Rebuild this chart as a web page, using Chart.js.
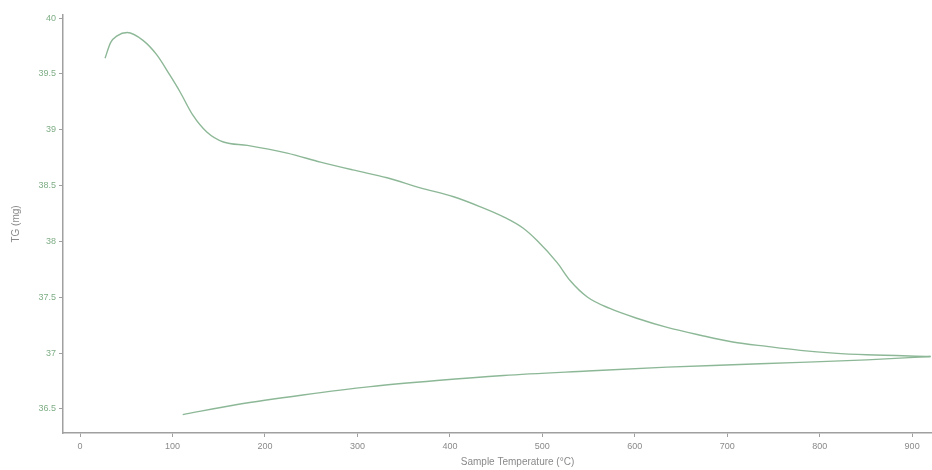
<!DOCTYPE html>
<html>
<head>
<meta charset="utf-8">
<script src="https://cdn.jsdelivr.net/npm/chart.js@4"></script>
<style>
  html, body { margin:0; padding:0; background:#fff; }
  #wrap { width:932px; height:470px; }
</style>
</head>
<body>
<div id="wrap"><canvas id="tgChart" width="932" height="470"></canvas></div>
<script>
// Courbe de chauffe (°C, mg)
const heatT    = [27, 33, 40, 51, 68, 83, 97, 108, 122, 137, 155, 181, 224, 260, 295, 332, 368, 404, 433, 458, 479, 494, 516, 530, 549, 573, 603, 635, 671, 706, 743, 779, 815, 851, 920];
const heatMass = [39.64, 39.78, 39.84, 39.87, 39.80, 39.67, 39.49, 39.34, 39.13, 38.98, 38.89, 38.86, 38.79, 38.71, 38.64, 38.57, 38.48, 38.40, 38.31, 38.22, 38.12, 38.01, 37.81, 37.65, 37.50, 37.40, 37.31, 37.23, 37.16, 37.10, 37.06, 37.025, 37.00, 36.985, 36.97];

// Courbe de refroidissement (du haut vers le bas en température)
const coolT    = [920, 851, 779, 706, 635, 549, 458, 386, 314, 241, 170, 111];
const coolMass = [36.97, 36.94, 36.917, 36.896, 36.875, 36.84, 36.80, 36.755, 36.70, 36.625, 36.54, 36.45];

const xTicks = [0, 100, 200, 300, 400, 500, 600, 700, 800, 900];
const yTicks = [36.5, 37, 37.5, 38, 38.5, 39, 39.5, 40];

const lineColor = '#8db897';
const axisColor = '#a0a0a0';
const labelColor = '#7fae86';
const fontFam = '"Liberation Sans", Arial, sans-serif';

const toPts = (xs, ys) => xs.map((x, i) => ({ x, y: ys[i] }));

// Titre de l'axe X, un peu décalé à droite comme sur l'original
const xTitlePlugin = {
  id: 'xTitle',
  afterDraw(chart) {
    const { ctx, chartArea } = chart;
    ctx.save();
    ctx.font = '10px ' + fontFam;
    ctx.fillStyle = '#8a8a8a';
    ctx.textAlign = 'center';
    ctx.textBaseline = 'middle';
    ctx.fillText('Sample Temperature (°C)', (chartArea.left + chartArea.right) / 2 + 20, chartArea.bottom + 29);
    ctx.restore();
  }
};

new Chart(document.getElementById('tgChart'), {
  type: 'scatter',
  data: {
    datasets: [
      { label: 'heat', data: toPts(heatT, heatMass), showLine: true, borderColor: lineColor, borderWidth: 1.4, pointRadius: 0, cubicInterpolationMode: 'monotone' },
      { label: 'cool', data: toPts(coolT, coolMass), showLine: true, borderColor: lineColor, borderWidth: 1.4, pointRadius: 0, cubicInterpolationMode: 'monotone' }
    ]
  },
  options: {
    responsive: false,
    animation: false,
    layout: { padding: { top: 15, right: 0, left: 0, bottom: 0 } },
    plugins: { legend: { display: false }, tooltip: { enabled: false } },
    scales: {
      x: {
        type: 'linear',
        min: -18.5,
        max: 921.5,
        afterBuildTicks: s => { s.ticks = xTicks.map(v => ({ value: v })); },
        afterFit: s => { s.height = 37; },
        border: { color: axisColor, width: 1.5 },
        grid: { drawOnChartArea: false, color: axisColor, tickLength: 4 },
        ticks: { color: '#8a8a8a', padding: 4, maxRotation: 0, callback: v => String(v), font: { family: fontFam, size: 9 } }
      },
      y: {
        type: 'linear',
        min: 36.285,
        max: 40.027,
        afterBuildTicks: s => { s.ticks = yTicks.map(v => ({ value: v })); },
        afterFit: s => { s.width = 63; },
        border: { color: axisColor, width: 1.5 },
        grid: { drawOnChartArea: false, color: axisColor, tickLength: 4 },
        ticks: { color: labelColor, padding: 3, callback: v => String(v), font: { family: fontFam, size: 9 } },
        title: { display: true, text: 'TG (mg)', color: '#8a8a8a', padding: { top: 10, bottom: 0 }, font: { family: fontFam, size: 10 } }
      }
    }
  },
  plugins: [xTitlePlugin]
});
</script>
</body>
</html>
